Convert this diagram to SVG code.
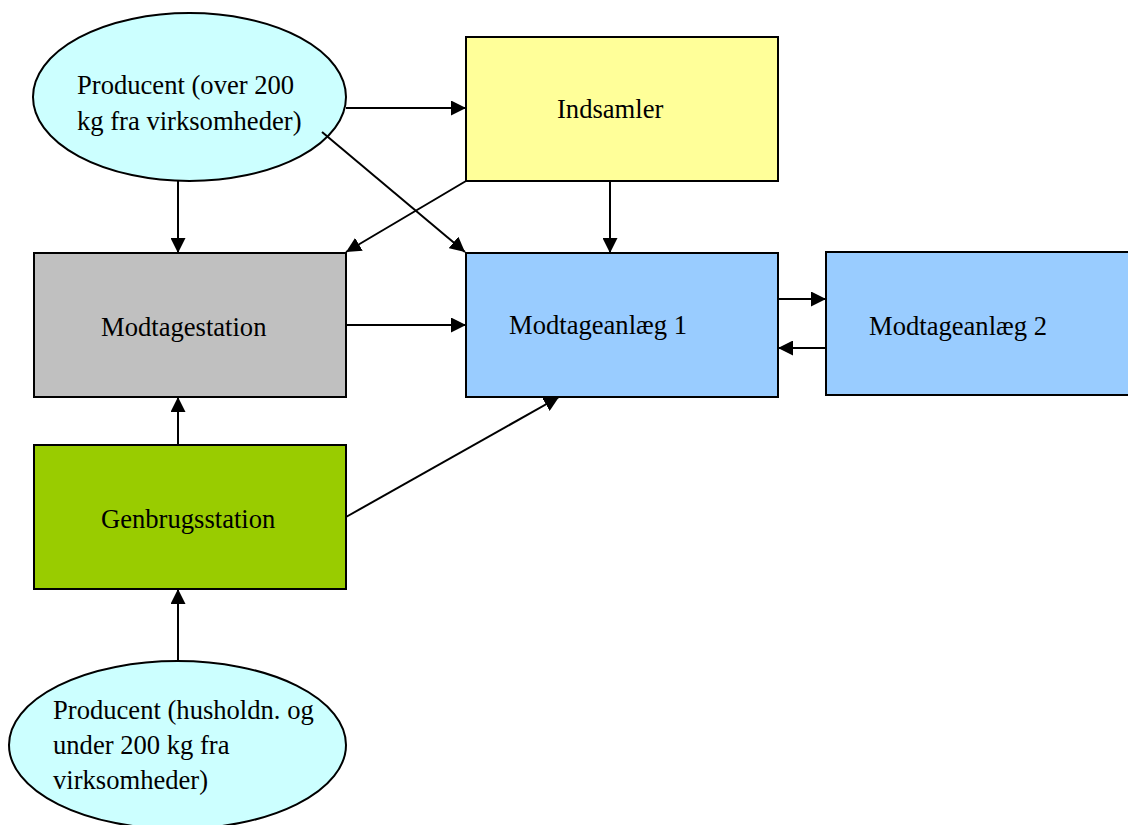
<svg xmlns="http://www.w3.org/2000/svg" width="1128" height="825" viewBox="0 0 1128 825">
<defs>
<marker id="ah" markerUnits="userSpaceOnUse" markerWidth="16" markerHeight="15" refX="15" refY="7.5" orient="auto">
<path d="M0,0 L15,7.5 L0,15 z" fill="#000"/>
</marker>
<style>
.n{stroke:#000;stroke-width:2}
.t{font-family:"Liberation Serif","Times New Roman",serif;font-size:26.6px;fill:#000}
.c line{stroke:#000;stroke-width:2;marker-end:url(#ah)}
</style>
</defs>
<rect width="1128" height="825" fill="#fff"/>
<g id="prod1">
<ellipse class="n" cx="189.5" cy="97" rx="156.5" ry="84" fill="#CCFFFF"/>
<text class="t" x="77" y="94">Producent (over 200</text>
<text class="t" x="77" y="130">kg fra virksomheder)</text>
</g>
<g id="indsamler">
<rect class="n" x="466" y="37" width="312" height="144" fill="#FFFF99"/>
<text class="t" x="557" y="118">Indsamler</text>
</g>
<g id="modtagestation">
<rect class="n" x="34" y="253" width="312" height="144" fill="#C0C0C0"/>
<text class="t" x="101" y="336">Modtagestation</text>
</g>
<g id="modtageanlaeg1">
<rect class="n" x="466" y="253" width="312" height="144" fill="#99CCFF"/>
<text class="t" x="509" y="334">Modtageanlæg 1</text>
</g>
<g id="modtageanlaeg2">
<rect class="n" x="826" y="252" width="310" height="143" fill="#99CCFF"/>
<text class="t" x="869" y="335">Modtageanlæg 2</text>
</g>
<g id="genbrugsstation">
<rect class="n" x="34" y="445" width="312" height="144" fill="#99CC00"/>
<text class="t" x="101" y="528">Genbrugsstation</text>
</g>
<g id="prod2">
<ellipse class="n" cx="177.5" cy="745" rx="168.5" ry="84" fill="#CCFFFF"/>
<text class="t" x="53" y="719">Producent (husholdn. og</text>
<text class="t" x="53" y="754">under 200 kg fra</text>
<text class="t" x="53" y="789">virksomheder)</text>
</g>
<g class="c" id="connectors">
<line x1="178" y1="181" x2="178" y2="253"/>
<line x1="346" y1="108" x2="466" y2="108"/>
<line x1="322" y1="132" x2="465" y2="252"/>
<line x1="466" y1="181" x2="346" y2="252"/>
<line x1="610" y1="181" x2="610" y2="253"/>
<line x1="346" y1="325" x2="466" y2="325"/>
<line x1="778" y1="299" x2="826" y2="299"/>
<line x1="826" y1="348" x2="778" y2="348"/>
<line x1="346" y1="517" x2="559" y2="397"/>
<line x1="178" y1="445" x2="178" y2="397"/>
<line x1="178" y1="661" x2="178" y2="589"/>
</g>
</svg>
